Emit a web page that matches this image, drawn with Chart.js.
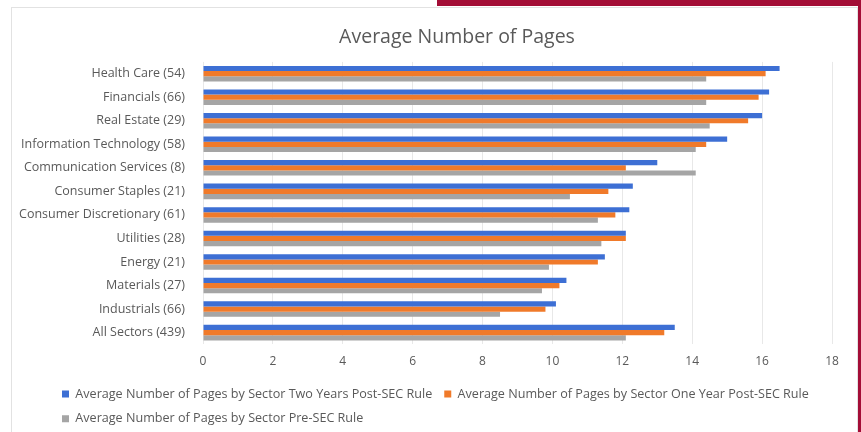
<!DOCTYPE html>
<html>
<head>
<meta charset="utf-8">
<script src="https://cdn.jsdelivr.net/npm/chart.js@4"></script>
<style>
    html, body { margin: 0; padding: 0; background: #ffffff; }
    #wrap { position: relative; width: 861px; height: 432px; overflow: hidden; }
    #frame { position: absolute; left: 11px; top: 7px; width: 845px; height: 430px; border: 1px solid #e2e2e2; pointer-events: none; }
    #redTop { position: absolute; left: 437px; top: 0; width: 424px; height: 6px; background: #a30d36; }
    #redSide { position: absolute; left: 858px; top: 0; width: 3px; height: 432px; background: #a30d36; }
    canvas { position: absolute; left: 0; top: 0; }
</style>
</head>
<body>
<div id="wrap">
    <canvas id="chart" width="861" height="432"></canvas>
    <div id="frame"></div>
    <div id="redTop"></div>
    <div id="redSide"></div>
</div>
<script>
var sectors = [
    'Health Care (54)',
    'Financials (66)',
    'Real Estate (29)',
    'Information Technology (58)',
    'Communication Services (8)',
    'Consumer Staples (21)',
    'Consumer Discretionary (61)',
    'Utilities (28)',
    'Energy (21)',
    'Materials (27)',
    'Industrials (66)',
    'All Sectors (439)'
];

// values
var twoYearsPost = [16.5, 16.2, 16.0, 15.0, 13.0, 12.3, 12.2, 12.1, 11.5, 10.4, 10.1, 13.5];
var oneYearPost = [16.1, 15.9, 15.6, 14.4, 12.1, 11.6, 11.8, 12.1, 11.3, 10.2, 9.8, 13.2];
var preRule = [14.4, 14.4, 14.5, 14.1, 14.1, 10.5, 11.3, 11.4, 9.9, 9.7, 8.5, 12.1];

var seriesNames = [
    'Average Number of Pages by Sector Two Years Post-SEC Rule',
    'Average Number of Pages by Sector One Year Post-SEC Rule',
    'Average Number of Pages by Sector Pre-SEC Rule'
];

var textColor = '#595959';

// nudge title and legend to where the original has them
var boxShift = {
    id: 'boxShift',
    afterLayout: function (chart) {
        chart.titleBlock.left += 41;
        chart.titleBlock.right += 41;
        chart.legend.left += 50;
        chart.legend.right += 50;
        chart.legend.top -= 3;
        chart.legend.bottom -= 3;
    }
};

var ctx = document.getElementById('chart').getContext('2d');
var chart = new Chart(ctx, {
    type: 'bar',
    data: {
        labels: sectors,
        datasets: [{
            label: seriesNames[0],
            data: twoYearsPost,
            backgroundColor: '#3d6fd4'
        }, {
            label: seriesNames[1],
            data: oneYearPost,
            backgroundColor: '#f07a2a'
        }, {
            label: seriesNames[2],
            data: preRule,
            backgroundColor: '#a5a5a5'
        }]
    },
    options: {
        indexAxis: 'y',
        responsive: false,
        animation: false,
        datasets: {
            bar: {
                categoryPercentage: 0.66,
                barPercentage: 1.0
            }
        },
        layout: {
            padding: { top: 20, right: 29, bottom: -6, left: 0 }
        },
        scales: {
            x: {
                min: 0,
                max: 18,
                ticks: {
                    stepSize: 2,
                    color: textColor,
                    padding: 10,
                    font: { family: 'Open Sans', size: 12 }
                },
                grid: { color: '#e8e8e8', drawTicks: false },
                border: { display: false }
            },
            y: {
                ticks: {
                    color: textColor,
                    padding: 10,
                    font: { family: 'Open Sans', size: 12.5 }
                },
                grid: { display: false },
                border: { display: false },
                afterFit: function (scale) {
                    scale.width = 203;
                }
            }
        },
        plugins: {
            title: {
                display: true,
                text: 'Average Number of Pages',
                color: textColor,
                font: { family: 'Open Sans', size: 19.5, weight: 'normal' },
                padding: { top: 6, bottom: 12.5 }
            },
            legend: {
                position: 'bottom',
                align: 'start',
                labels: {
                    color: textColor,
                    boxWidth: 7,
                    boxHeight: 7,
                    padding: 12,
                    font: { family: 'Open Sans', size: 12.6 }
                }
            },
            tooltip: { enabled: false }
        }
    },
    plugins: [boxShift]
});
</script>
</body>
</html>
